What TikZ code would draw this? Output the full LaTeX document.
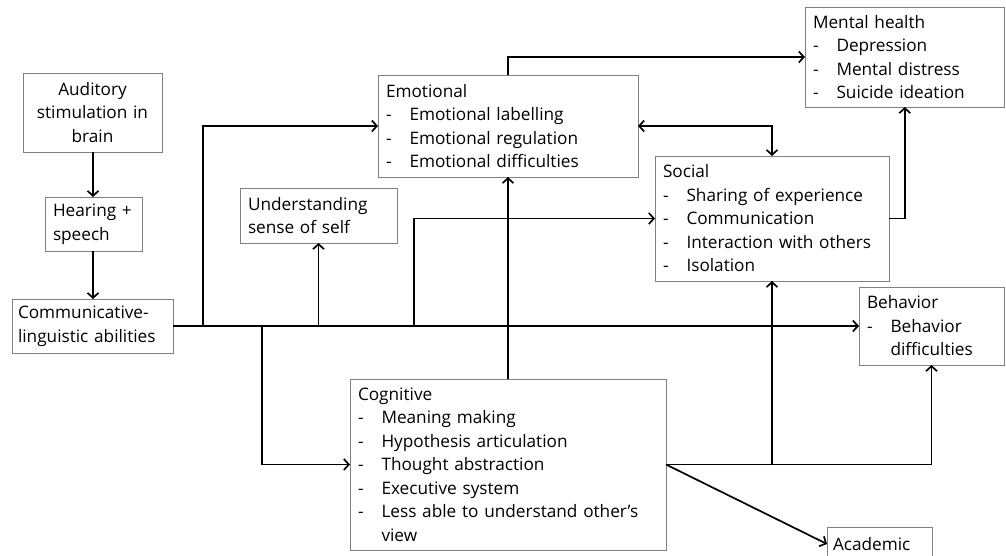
\documentclass[tikz,border=0pt]{standalone}
\usepackage{fontspec}
\setmainfont{Open Sans}
\usetikzlibrary{arrows.meta}
% list item with a dash and a fixed indent
\newcommand\itm[1]{\makebox[23.5pt][l]{-}#1}
\newcommand\hang{\hspace*{23.5pt}}

\begin{document}
\begin{tikzpicture}[x=1pt,y=-1pt,
  box/.style={draw=black!50, line width=0.9pt, rectangle, anchor=north west,
    inner xsep=8pt, inner ysep=0pt, outer sep=0pt, align=left,
    font=\fontsize{17.2}{23.5}\selectfont},
  link/.style={line width=1.7pt, draw=black},
  tip/.tip={Straight Barb[length=5pt,width=11pt]},
  arr/.style={link, -tip},
]
\clip (0,0) rectangle (1006,555);
\fill[white] (0,0) rectangle (1006,555);

% boxes
\node[box, align=center, minimum width=139pt, minimum height=79pt, text width=125pt, inner xsep=7pt] (aud) at (23,73)
  {Auditory\\stimulation in\\brain};
\node[box, minimum width=97pt, minimum height=54pt, text width=87pt, inner xsep=5pt] (hear) at (45,197)
  {\hspace*{3pt}Hearing +\\\hspace*{3pt}speech};
\node[box, inner xsep=6pt, minimum width=161pt, minimum height=54pt, text width=149pt] (comm) at (12,299)
  {Communicative-\\linguistic abilities};
\node[box, minimum width=157pt, minimum height=55pt, text width=141pt] (self) at (240,188)
  {Understanding\\sense of self};
\node[box, minimum width=260pt, minimum height=102pt, text width=244pt] (emo) at (378,75)
  {Emotional\\\itm{Emotional labelling}\\\itm{Emotional regulation}\\\itm{Emotional difficulties}};
\node[box, minimum width=234pt, minimum height=125pt, text width=218pt] (soc) at (655,156)
  {Social\\\itm{Sharing of experience}\\\itm{Communication}\\\itm{Interaction with others}\\\itm{Isolation}};
\node[box, minimum width=199.5pt, minimum height=100pt, text width=183.5pt] (mh) at (805,7)
  {Mental health\\\itm{Depression}\\\itm{Mental distress}\\\itm{Suicide ideation}};
\node[box, minimum width=145pt, minimum height=78pt, text width=129pt] (beh) at (859,287)
  {Behavior\\\itm{Behavior}\\\hang difficulties};
\node[box, minimum width=316pt, minimum height=171pt, text width=300pt] (cog) at (350,379)
  {Cognitive\\\itm{Meaning making}\\\itm{Hypothesis articulation}\\\itm{Thought abstraction}\\\itm{Executive system}\\\itm{Less able to understand other’s}\\\hang view};
\node[box, inner xsep=6pt, minimum width=105pt, minimum height=34pt, text width=93pt] (acad) at (827,527)
  {Academic};

% vertical chain on the left
\draw[arr] (aud.south -| 93,0) -- (hear.north -| 93,0);
\draw[arr] (hear.south -| 93,0) -- (comm.north -| 93,0);

% main trunk and its branches
\draw[arr] (comm.east) -- (beh.west);
\coordinate (jemo) at (203,326);
\coordinate (jcog) at (262,326);
\coordinate (jself) at (self.south |- comm.east);
\coordinate (jsoc) at (414,326);
\draw[arr] (jemo) |- (emo.west);
\draw[arr] (jcog) |- (cog.west);
\draw[arr] (jself) -- (self.south);
\draw[arr] (jsoc) |- (soc.west);

% links between domains
\draw[arr] (cog.north) -- (emo.south);
\draw[arr] (emo.north) |- (mh.west);
\draw[link, tip-tip] (emo.east) -| (soc.north);
\draw[arr] (soc.east) -| (mh.south);
\draw[arr] (cog.east) -| (soc.south);
\draw[arr] (cog.east) -| (beh.south);
\draw[arr] (cog.east) -- (acad.west);
\end{tikzpicture}
\end{document}
